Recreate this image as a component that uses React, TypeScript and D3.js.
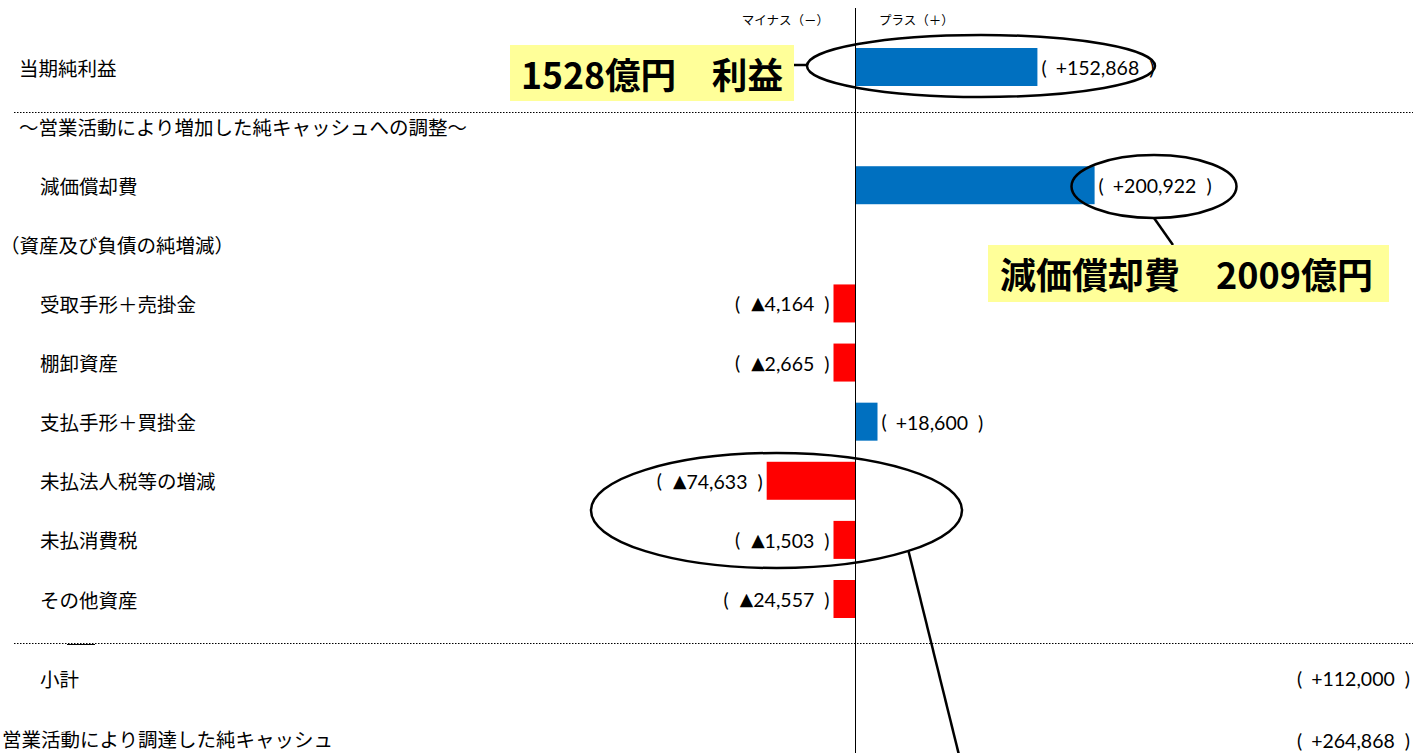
import React from 'react';
import * as d3 from 'd3';

// ---- data ----
const rowLabels = [
  '当期純利益',
  '～営業活動により増加した純キャッシュへの調整～',
  '減価償却費',
  '（資産及び負債の純増減）',
  '受取手形＋売掛金',
  '棚卸資産',
  '支払手形＋買掛金',
  '未払法人税等の増減',
  '未払消費税',
  'その他資産',
];
const rowValues: (number | null)[] = [152868, null, 200922, null, -4164, -2665, 18600, -74633, -1503, -24557];
const summaryLabels = ['小計', '営業活動により調達した純キャッシュ'];
const axisLabels = ['マイナス（－）', 'プラス（＋）'];
const calloutTexts = ['1528億円　利益', '減価償却費　2009億円'];

// ---- layout ----
const W = 1413;
const H = 753;
const AXIS_X = 855.5;
const BAR_H = 38;
const SMALL_VALUE = 25000;
const SMALL_BAR_W = 22;

const JP = "'Noto Sans CJK JP', 'Noto Sans', sans-serif";
const NUM = "Lato, 'DejaVu Sans', sans-serif";

const x = d3.scaleLinear().domain([-200000, 300000]).range([AXIS_X - 238, AXIS_X + 357]);
const y = d3.scaleLinear().domain([0, 9]).range([67, 599]);

const fmt = d3.format(',');

function ValueText({ v, px, py, anchor }: { v: number; px: number; py: number; anchor: 'start' | 'end' }) {
  const pos = v >= 0;
  return (
    <text
      x={px}
      y={py}
      fontFamily={NUM}
      fontSize={19.5}
      textAnchor={anchor}
      dominantBaseline="central"
      fill="#000"
    >
      {'('}
      {pos ? (
        <tspan dx={9}>{'+' + fmt(v)}</tspan>
      ) : (
        <>
          <tspan dx={11} fontFamily="'DejaVu Sans', sans-serif" fontSize={17.5}>
            {'▲'}
          </tspan>
          <tspan>{fmt(-v)}</tspan>
        </>
      )}
      <tspan dx={10}>{')'}</tspan>
    </text>
  );
}

export default function App() {
  const adjustments = rowValues.slice(1).filter((v): v is number => v !== null);
  const subtotal = d3.sum(adjustments);
  const total = (rowValues[0] as number) + subtotal;
  const summaryValues = [subtotal, total];
  const summaryY = [y(9) + 79, y(9) + 141];

  const barWidth = (v: number) => (Math.abs(v) < SMALL_VALUE ? SMALL_BAR_W : Math.abs(x(v) - x(0)));
  const labelX = (i: number) => {
    if (i === 3) return 0;
    if (i === 0 || i === 1) return 19;
    return 40;
  };

  return (
    <svg
      width={W}
      height={H}
      style={{ position: 'fixed', left: 0, top: 0, background: '#fff' }}
      xmlns="http://www.w3.org/2000/svg"
    >
      <rect x={0} y={0} width={W} height={H} fill="#fff" />

      {/* header labels */}
      <text x={829} y={19} fontFamily={JP} fontSize={12.5} textAnchor="end" dominantBaseline="central" fill="#000">
        {axisLabels[0]}
      </text>
      <text x={879} y={19} fontFamily={JP} fontSize={12.5} textAnchor="start" dominantBaseline="central" fill="#000">
        {axisLabels[1]}
      </text>

      {/* dotted separators */}
      <line x1={14} x2={W} y1={112.5} y2={112.5} stroke="#000" strokeWidth={1} strokeDasharray="1.5,1.5" />
      <line x1={14} x2={W} y1={643.5} y2={643.5} stroke="#000" strokeWidth={1} strokeDasharray="1.5,1.5" />
      <line x1={67} x2={95} y1={644.5} y2={644.5} stroke="#000" strokeWidth={1} />

      {/* row labels */}
      {rowLabels.map((lab, i) => (
        <text
          key={'l' + i}
          x={labelX(i)}
          y={y(i)}
          fontFamily={JP}
          fontSize={19.5}
          dominantBaseline="central"
          fill="#000"
        >
          {lab}
        </text>
      ))}
      {summaryLabels.map((lab, i) => (
        <text
          key={'s' + i}
          x={i === 0 ? 40 : 2}
          y={summaryY[i] - (i === 1 ? 2 : 0)}
          fontFamily={JP}
          fontSize={19.5}
          dominantBaseline="central"
          fill="#000"
        >
          {lab}
        </text>
      ))}

      {/* bars */}
      {rowValues.map((v, i) => {
        if (v === null) return null;
        const w = barWidth(v);
        const bx = v >= 0 ? x(0) : x(0) - w;
        return (
          <rect
            key={'b' + i}
            x={bx}
            y={y(i) - BAR_H / 2}
            width={w}
            height={BAR_H}
            fill={v >= 0 ? '#0070C0' : '#FF0000'}
          />
        );
      })}

      {/* value labels */}
      {rowValues.map((v, i) => {
        if (v === null) return null;
        const w = barWidth(v);
        const pos = v >= 0;
        const tx = pos ? x(0) + w + 4 : x(0) - w - 4;
        return <ValueText key={'v' + i} v={v} px={tx} py={y(i)} anchor={pos ? 'start' : 'end'} />;
      })}
      {summaryValues.map((v, i) => (
        <ValueText key={'sv' + i} v={v} px={1410} py={summaryY[i]} anchor="end" />
      ))}

      {/* zero axis */}
      <line x1={AXIS_X} x2={AXIS_X} y1={8} y2={H} stroke="#000" strokeWidth={1} />

      {/* callout 1: net income */}
      <rect x={510} y={45} width={284} height={56} fill="#FFFF99" />
      <text
        x={521}
        y={89}
        fontFamily={JP}
        fontWeight={700}
        fontSize={36}
        textLength={262}
        lengthAdjust="spacingAndGlyphs"
        fill="#000"
      >
        {calloutTexts[0]}
      </text>
      <line x1={794} x2={808} y1={65} y2={65} stroke="#000" strokeWidth={2.5} />
      <ellipse cx={981} cy={66} rx={174} ry={31} fill="none" stroke="#000" strokeWidth={2.5} />

      {/* callout 2: depreciation */}
      <ellipse cx={1154} cy={186.5} rx={82.5} ry={31.5} fill="none" stroke="#000" strokeWidth={2.5} />
      <line x1={1154} y1={218} x2={1173} y2={245} stroke="#000" strokeWidth={2.5} />
      <rect x={988} y={245} width={401} height={57} fill="#FFFF99" />
      <text
        x={1000}
        y={289}
        fontFamily={JP}
        fontWeight={700}
        fontSize={36}
        textLength={373}
        lengthAdjust="spacingAndGlyphs"
        fill="#000"
      >
        {calloutTexts[1]}
      </text>

      {/* callout 3: taxes */}
      <ellipse cx={776.5} cy={510.5} rx={185.5} ry={57.5} fill="none" stroke="#000" strokeWidth={2.5} />
      <line x1={908.5} y1={551} x2={959} y2={H + 2} stroke="#000" strokeWidth={2.5} />
    </svg>
  );
}
